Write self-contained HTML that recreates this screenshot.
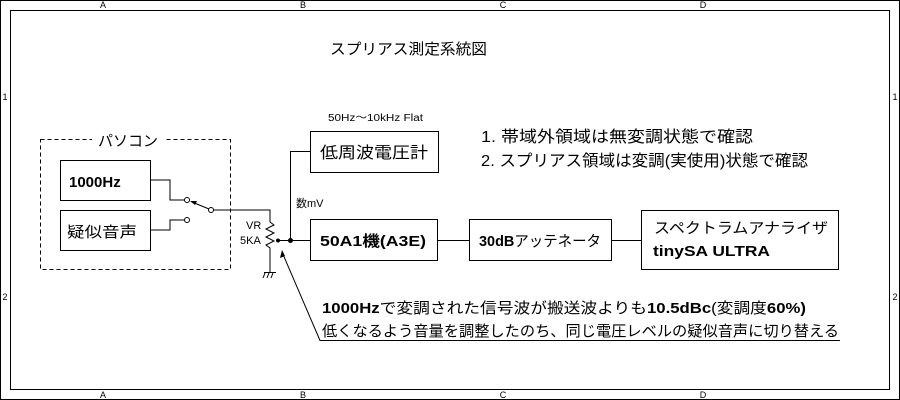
<!DOCTYPE html><html><head><style>body{margin:0;background:#fff}svg{display:block}text{font-family:"Liberation Sans","Noto Sans CJK JP",sans-serif;fill:#000}</style></head><body>
<svg width="900" height="400" viewBox="0 0 900 400" xmlns="http://www.w3.org/2000/svg">
<rect x="0.5" y="0.5" width="899" height="399" fill="#fff" stroke="#000"/>
<rect x="10.5" y="10.5" width="879" height="379" fill="none" stroke="#000"/>
<g font-size="9" text-anchor="middle">
<text x="103" y="8">A</text><text x="303" y="8">B</text><text x="503" y="8">C</text><text x="703" y="8">D</text>
<text x="103" y="398">A</text><text x="303" y="398">B</text><text x="503" y="398">C</text><text x="703" y="398">D</text>
<text x="5" y="100">1</text><text x="5" y="300">2</text><text x="895" y="100">1</text><text x="895" y="300">2</text>
</g>
<text x="330" y="54" font-size="15" textLength="157" lengthAdjust="spacingAndGlyphs">スプリアス測定系統図</text>
<g fill="none" stroke="#000" stroke-width="1">
<rect x="40.5" y="139.5" width="190" height="130" stroke-dasharray="4,3"/>
<rect x="60.5" y="160.5" width="90" height="40"/>
<rect x="60.5" y="210.5" width="90" height="40"/>
<rect x="310.5" y="131.5" width="128" height="41"/>
<rect x="310.5" y="219.5" width="127" height="41"/>
<rect x="469.5" y="219.5" width="142" height="41"/>
<rect x="641.5" y="210.5" width="197" height="59"/>
<polyline points="150,180 170,180 170,200 185,200"/>
<polyline points="150,230 170,230 170,220 185,220"/>
<line x1="209" y1="209" x2="192" y2="202"/>
<polyline points="213,210 270,210 270,222 274,225 266,229 274,233 266,237 274,241 266,245 270,248 270,272"/>
<line x1="264" y1="272.5" x2="276" y2="272.5"/>
<line x1="265" y1="273" x2="263" y2="278"/><line x1="269" y1="273" x2="267" y2="278"/><line x1="273" y1="273" x2="271" y2="278"/>
<line x1="278" y1="240.5" x2="310" y2="240.5"/>
<polyline points="310,151.5 290.5,151.5 290.5,240"/>
<line x1="437" y1="240.5" x2="469" y2="240.5"/>
<line x1="611" y1="240.5" x2="641" y2="240.5"/>
<polyline points="282,252 320,340.5 840,340.5"/>
</g>
<polygon points="282,250 280,258 285,256" fill="#000"/>
<polygon points="190,201 197,201 195,205" fill="#000"/>
<g fill="#fff" stroke="#000"><circle cx="187" cy="200" r="2.5"/><circle cx="187" cy="220" r="2.5"/><circle cx="211" cy="210" r="2.5"/></g>
<circle cx="278" cy="240.5" r="2" fill="#000"/><circle cx="290.5" cy="240.5" r="2.5" fill="#000"/>
<rect x="92" y="134" width="74" height="10" fill="#fff"/>
<text x="98" y="146" font-size="15">パソコン</text>
<text x="69" y="187" font-size="15" font-weight="bold">1000Hz</text>
<text x="67" y="237" font-size="15" textLength="70" lengthAdjust="spacingAndGlyphs">疑似音声</text>
<text x="246" y="229" font-size="11">VR</text>
<text x="240" y="244" font-size="11">5KA</text>
<text x="296" y="207" font-size="11">数mV</text>
<text x="328" y="121" font-size="10" textLength="95" lengthAdjust="spacingAndGlyphs">50Hz～10kHz Flat</text>
<text x="320" y="158" font-size="16" textLength="108" lengthAdjust="spacingAndGlyphs">低周波電圧計</text>
<text x="320" y="246" font-size="15" font-weight="bold" textLength="106" lengthAdjust="spacingAndGlyphs">50A1機(A3E)</text>
<text x="479" y="246" font-size="15" textLength="122" lengthAdjust="spacingAndGlyphs"><tspan font-weight="bold">30dB</tspan>アッテネータ</text>
<text x="654" y="233" font-size="15" textLength="174" lengthAdjust="spacingAndGlyphs">スペクトラムアナライザ</text>
<text x="653" y="256" font-size="15" font-weight="bold" textLength="117" lengthAdjust="spacingAndGlyphs">tinySA ULTRA</text>
<text x="481" y="142" font-size="16" textLength="272" lengthAdjust="spacingAndGlyphs">1. 帯域外領域は無変調状態で確認</text>
<text x="481" y="166" font-size="16" textLength="327" lengthAdjust="spacingAndGlyphs">2. スプリアス領域は変調(実使用)状態で確認</text>
<text x="322" y="313" font-size="15" textLength="484" lengthAdjust="spacingAndGlyphs"><tspan font-weight="bold">1000Hz</tspan>で変調された信号波が搬送波よりも<tspan font-weight="bold">10.5dBc</tspan>(変調度<tspan font-weight="bold">60%)</tspan></text>
<text x="322" y="336" font-size="15" textLength="517" lengthAdjust="spacingAndGlyphs">低くなるよう音量を調整したのち、同じ電圧レベルの疑似音声に切り替える</text>
</svg></body></html>
